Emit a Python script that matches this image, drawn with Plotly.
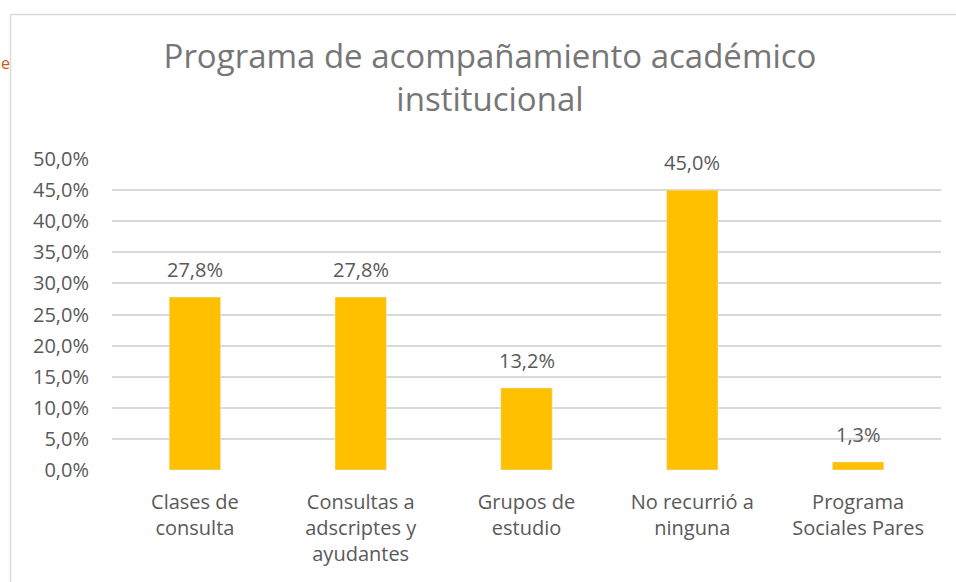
import plotly.graph_objects as go

categories = ["Clases de<br>consulta", "Consultas a<br>adscriptes y<br>ayudantes", "Grupos de<br>estudio",
              "No recurrió a<br>ninguna", "Programa<br>Sociales Pares"]
values = [0.278, 0.278, 0.132, 0.450, 0.013]
tick_vals = [0, 0.05, 0.10, 0.15, 0.20, 0.25, 0.30, 0.35, 0.40, 0.45, 0.50]

W, H = 956, 582
L, R, T, B = 112, 15, 159, 112
pw, ph = W - L - R, H - T - B

def px(x):
    return (x - L) / pw

def py(y):
    return (H - B - y) / ph

fig = go.Figure(go.Bar(
    x=categories, y=values, marker_color="#FFC000", width=0.31,
))

annotations = [
    dict(x=c, y=v, text=f"{v * 100:.1f}%".replace(".", ","), xref="x", yref="y",
         yanchor="bottom", yshift=12, showarrow=False,
         font=dict(size=20, color="#595959"))
    for c, v in zip(categories, values)
]
annotations.append(
    dict(text="e", xref="paper", yref="paper", x=px(-1), y=py(63), xanchor="left", yanchor="middle",
         showarrow=False, font=dict(size=16, color="#C55A11"))
)

fig.update_layout(
    width=W, height=H, margin=dict(l=L, r=R, t=T, b=B),
    paper_bgcolor="white", plot_bgcolor="white",
    separators=",.",
    font=dict(family="Open Sans, sans-serif", color="#595959"),
    showlegend=False,
    title=dict(text="Programa de acompañamiento académico<br>institucional",
               x=490 / W, xanchor="center", y=1 - 68 / H, yanchor="top",
               font=dict(size=33, color="#767676")),
    xaxis=dict(showline=False, ticks="outside", ticklen=14, tickcolor="rgba(0,0,0,0)",
               tickfont=dict(size=20, color="#595959")),
    yaxis=dict(range=[0, 0.5], tickvals=tick_vals, tickformat=".1%",
               showgrid=True, gridcolor="#D9D9D9", gridwidth=1.5, zeroline=False,
               showline=False, ticks="outside", ticklen=18, tickcolor="rgba(0,0,0,0)",
               tickfont=dict(size=20, color="#595959")),
    shapes=[
        dict(type="line", xref="paper", yref="paper", x0=px(10.5), x1=px(956), y0=py(14.5), y1=py(14.5),
             line=dict(color="#D9D9D9", width=1.5)),
        dict(type="line", xref="paper", yref="paper", x0=px(10.5), x1=px(10.5), y0=py(14.5), y1=py(582),
             line=dict(color="#D9D9D9", width=1.5)),
    ],
    annotations=annotations,
)

fig.write_html("out.html", config={"displayModeBar": False},
               post_script="document.body.style.margin='0';document.body.style.overflow='hidden';")
